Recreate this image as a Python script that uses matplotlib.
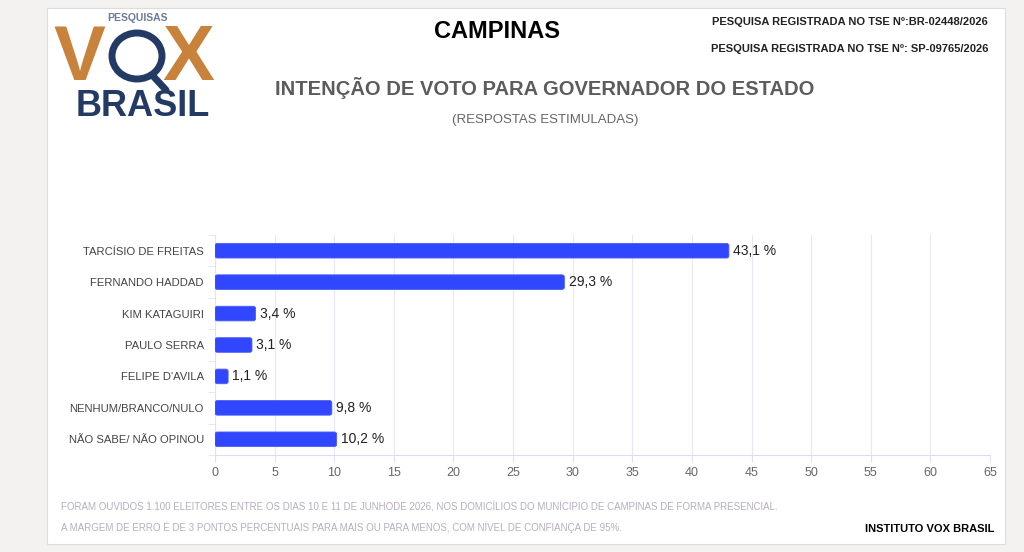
import matplotlib
matplotlib.use("Agg")
import matplotlib.pyplot as plt
from matplotlib.patches import FancyBboxPatch, Rectangle, Ellipse
from matplotlib.lines import Line2D

plt.rcParams['font.family'] = ['Liberation Sans', 'DejaVu Sans']

# dados
candidatos = ["TARCÍSIO DE FREITAS", "FERNANDO HADDAD", "KIM KATAGUIRI",
              "PAULO SERRA", "FELIPE D'AVILA", "NENHUM/BRANCO/NULO",
              "NÃO SABE/ NÃO OPINOU"]
votos = [43.1, 29.3, 3.4, 3.1, 1.1, 9.8, 10.2]
xticks = list(range(0, 70, 5))

titulo = "CAMPINAS"
subtitulo = "INTENÇÃO DE VOTO PARA GOVERNADOR DO ESTADO"
obs = "(RESPOSTAS ESTIMULADAS)"
registro1 = "PESQUISA REGISTRADA NO TSE Nº:BR-02448/2026"
registro2 = "PESQUISA REGISTRADA NO TSE Nº: SP-09765/2026"
nota1 = ("FORAM OUVIDOS 1.100 ELEITORES ENTRE OS DIAS 10 E 11 DE JUNHODE 2026, "
         "NOS DOMICÍLIOS DO MUNÍCIPIO DE CAMPINAS DE FORMA PRESENCIAL.")
nota2 = ("A MARGEM DE ERRO É DE 3 PONTOS PERCENTUAIS PARA MAIS OU PARA MENOS, "
         "COM NÍVEL DE CONFIANÇA DE 95%.")
fonte = "INSTITUTO VOX BRASIL"

W, H = 1024, 552
fig = plt.figure(figsize=(W / 100, H / 100), dpi=100)
fig.patch.set_facecolor("#f3f2f0")


def fx(px):
    return px / W


def fy(py):
    return 1 - py / H


# cartão branco
fig.patches.append(Rectangle((fx(47), fy(544)), fx(1005) - fx(47), fy(8) - fy(544),
                             transform=fig.transFigure, facecolor="white",
                             edgecolor="#dcdcdc", linewidth=0.8, zorder=-5))

# logo
fig.text(fx(137), fy(18), "PESQUISAS", ha="center", va="center", fontsize=7.5,
         color="#6a7a9c", fontweight="bold")
fig.text(fx(53), fy(60), "V", ha="left", va="center", fontsize=56,
         color="#c8823c", fontweight="bold")
fig.text(fx(214), fy(60), "X", ha="right", va="center", fontsize=56,
         color="#c8823c", fontweight="bold")
fig.patches.append(Ellipse((fx(137), fy(56)), fx(50), 46 / H, transform=fig.transFigure,
                           facecolor="none", edgecolor="#233a64", linewidth=5))
fig.lines.append(Line2D([fx(153), fx(166)], [fy(76), fy(90)], transform=fig.transFigure,
                        color="#233a64", linewidth=5, solid_capstyle="round"))
fig.text(fx(143), fy(106), "BRASIL", ha="center", va="center", fontsize=26,
         color="#233a64", fontweight="bold")

# títulos
fig.text(fx(497), fy(32), titulo, ha="center", va="center", fontsize=17,
         fontweight="bold", color="black")
fig.text(fx(545), fy(88), subtitulo, ha="center", va="center", fontsize=14.5,
         fontweight="bold", color="#5c5c5c")
fig.text(fx(545), fy(120), obs, ha="center", va="center", fontsize=9.5,
         color="#666666")
fig.text(fx(988), fy(22), registro1, ha="right", va="center", fontsize=8,
         fontweight="bold", color="#222222")
fig.text(fx(988), fy(49), registro2, ha="right", va="center", fontsize=8,
         fontweight="bold", color="#222222")

# gráfico
ax = fig.add_axes([fx(215), fy(455), fx(990) - fx(215), fy(235) - fy(455)])
ax.set_facecolor("white")
pos = list(range(len(candidatos)))
bars = ax.barh(pos, votos, height=0.465, color="#3046ff")
for b in bars:
    fb = FancyBboxPatch((b.get_x(), b.get_y()), b.get_width(), b.get_height(),
                        boxstyle="round,pad=0,rounding_size=0.2",
                        mutation_aspect=0.33, facecolor="#3046ff",
                        edgecolor="#4a5cff", linewidth=0.6, zorder=3)
    ax.add_patch(fb)
    b.remove()

for p, v in zip(pos, votos):
    ax.text(v + 0.35, p, f"{v:.1f} %".replace(".", ","), va="center", ha="left",
            fontsize=10, color="#222222")

ax.set_xlim(0, 65)
ax.set_ylim(len(candidatos) - 0.5, -0.5)
ax.set_xticks(xticks)
ax.set_xticklabels([str(t) for t in xticks], fontsize=9, color="#666666")
ax.set_yticks(pos)
ax.set_yticklabels(candidatos, fontsize=8.1, color="#444444")
ax.tick_params(axis="y", length=0, pad=8)
ax.set_yticks([p - 0.5 for p in pos] + [len(pos) - 0.5], minor=True)
ax.tick_params(axis="y", which="minor", length=5, color="#e3e3f0")
ax.tick_params(axis="x", length=5, color="#e0e0f0", pad=4)
ax.grid(axis="x", color="#e8e8f2", linewidth=0.8)
ax.set_axisbelow(True)
for s in ["top", "right"]:
    ax.spines[s].set_visible(False)
ax.spines["left"].set_color("#e3e3f0")
ax.spines["bottom"].set_color("#dcdcf2")

# rodapé
fig.text(fx(61), fy(507), nota1, ha="left", va="center", fontsize=7,
         color="#b8aebf")
fig.text(fx(61), fy(527), nota2, ha="left", va="center", fontsize=7,
         color="#b8aebf")
fig.text(fx(994), fy(529), fonte, ha="right", va="center", fontsize=8,
         fontweight="bold", color="black")

fig.savefig("out.png", dpi=100)
